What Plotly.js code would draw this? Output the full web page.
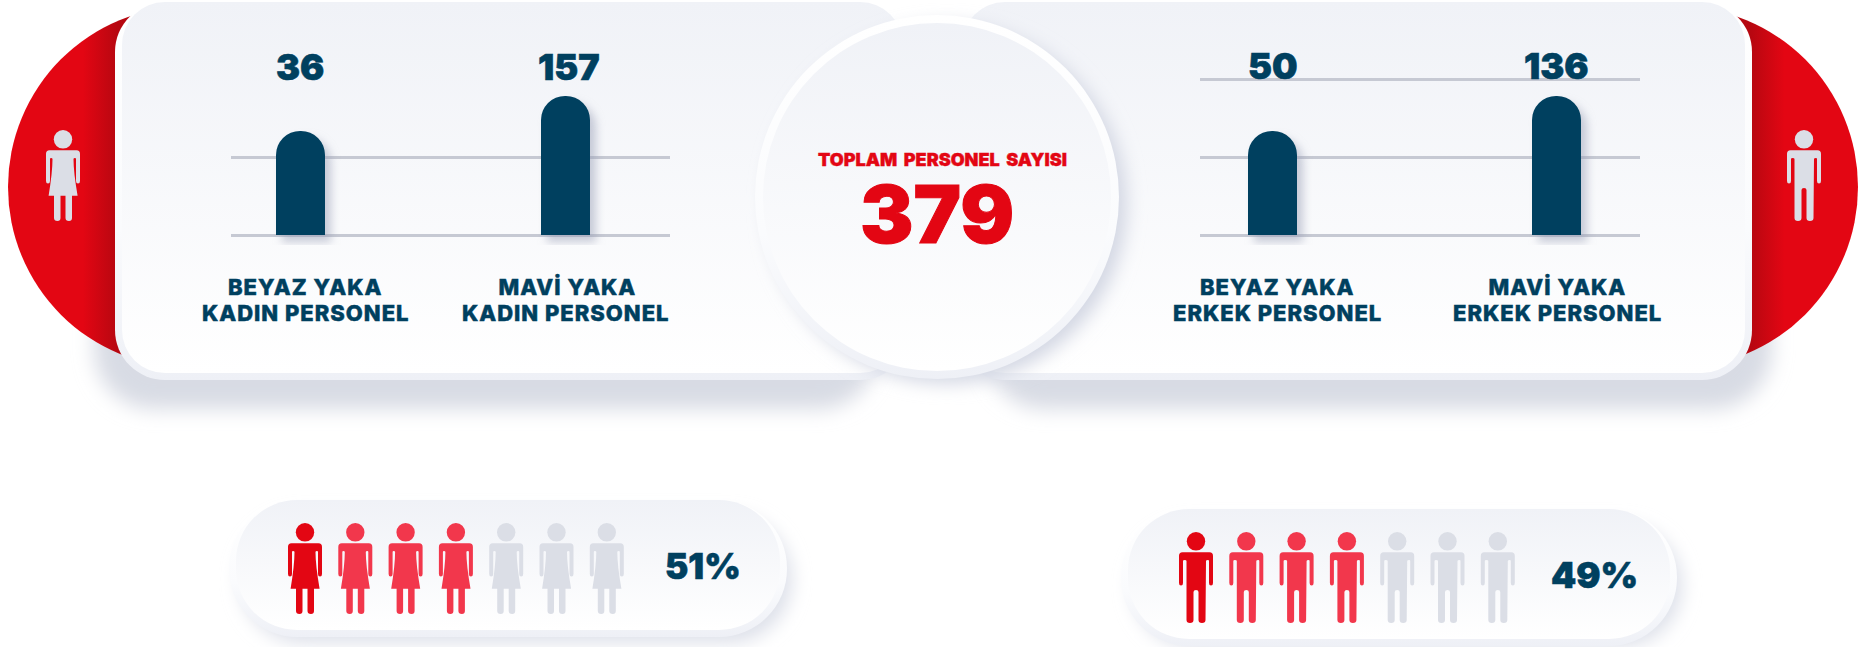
<!DOCTYPE html>
<html><head><meta charset="utf-8">
<script src="https://cdn.plot.ly/plotly-3.0.1.min.js"></script>
<style>
html,body{margin:0;padding:0;background:#fff;overflow:hidden}
#chart{width:1860px;height:647px}
.bars .point path{filter:drop-shadow(6px 7px 4px rgba(150,156,180,.5))}
</style></head><body><div id="chart"></div>
<script>
// ---- data ----
const collarLines = ["BEYAZ YAKA", "MAVİ YAKA"];
const womenLabel = "KADIN PERSONEL";
const menLabel = "ERKEK PERSONEL";
const womenCounts = [36, 157];
const menCounts = [50, 136];
// The infographic's bars are not proportional to the counts: drawn heights as measured
const womenBarHeights = [104, 139];
const menBarHeights = [104, 139];
const womenGrid = [0, 78];
const menGrid = [0, 78, 156];
const totalTitle = "TOPLAM PERSONEL SAYISI";
const totalCount = 379;
const womenShare = "51%";
const menShare = "49%";
const iconTotal = 7;
const iconFilled = 4;

const NAVY = "#00405f", RED = "#e30613", PINK = "#f2374c", GREY = "#dbdee6";
const FONT = "Inter, 'Open Sans', sans-serif";
const W = 1860, H = 647;

// ---- decoration (panels, circles) ----
function panel(x, y, w, h, r, bw) {
  return `<rect x="${x}" y="${y}" width="${w}" height="${h}" rx="${r}" fill="url(#edge)"/>` +
         `<rect x="${x+bw}" y="${y}" width="${w-2*bw}" height="${h-bw}" rx="${r-bw}" fill="url(#face)"/>`;
}
function shadow(x, y, w, h, r, f, c) {
  return `<rect x="${x}" y="${y}" width="${w}" height="${h}" rx="${r}" fill="${c}" filter="url(#${f})"/>`;
}
const bg = `<svg xmlns="http://www.w3.org/2000/svg" width="${W}" height="${H}" viewBox="0 0 ${W} ${H}">
<defs>
<linearGradient id="face" x1="0" y1="0" x2="0" y2="1"><stop offset="0" stop-color="#f0f2f7"/><stop offset="1" stop-color="#ffffff"/></linearGradient>
<linearGradient id="edge" x1="0" y1="0" x2="0" y2="1"><stop offset="0" stop-color="#ffffff"/><stop offset=".6" stop-color="#fafbfd"/><stop offset="1" stop-color="#eef0f6"/></linearGradient>
<linearGradient id="redL" gradientUnits="userSpaceOnUse" x1="8" y1="0" x2="118" y2="0"><stop offset="0" stop-color="${RED}"/><stop offset=".68" stop-color="${RED}"/><stop offset="1" stop-color="#b60710"/></linearGradient>
<linearGradient id="redR" gradientUnits="userSpaceOnUse" x1="1858" y1="0" x2="1750" y2="0"><stop offset="0" stop-color="${RED}"/><stop offset=".68" stop-color="${RED}"/><stop offset="1" stop-color="#b60710"/></linearGradient>
<filter id="b1" x="-20%" y="-20%" width="140%" height="150%"><feGaussianBlur stdDeviation="10"/></filter>
<filter id="b2" x="-30%" y="-30%" width="160%" height="160%"><feGaussianBlur stdDeviation="9"/></filter>
</defs>
${shadow(94,200,784,209,60,"b1","#d8dbe4")}
${shadow(985,200,787,209,60,"b1","#d8dbe4")}
<circle cx="188.5" cy="187" r="180.5" fill="url(#redL)"/>
<circle cx="1677.5" cy="187" r="180.5" fill="url(#redR)"/>
${panel(115,2,795,378,50,7)}
${panel(955,2,797,378,50,7)}
<circle cx="947" cy="204" r="180" fill="#d3d7e3" filter="url(#b2)"/>
<circle cx="937" cy="197" r="182" fill="url(#edge)"/>
<circle cx="937" cy="197" r="174" fill="url(#face)"/>
${shadow(240,515,552,128,64,"b2","#dde0e9")}
${panel(229,500,558,137,68,7)}
${shadow(1132,524,550,123,62,"b2","#dde0e9")}
${panel(1121,509,556,137,68,7)}
</svg>`;

// ---- bars ----
const xCats = [0, 1];
function barTrace(h, xa, ya, width) {
  return {type:"bar", x:xCats, y:h, xaxis:xa, yaxis:ya, width:width,
    marker:{color:NAVY, line:{width:0}}, hoverinfo:"skip", showlegend:false};
}
const pad = 10;
const yDomain = [1-(235+pad)/H, 1-(79-pad)/H];
const yRange = [-pad, 156+pad];
function yAxis(anchor, grid) {
  return {anchor, domain:yDomain, range:yRange, tickvals:grid, showticklabels:false,
    showgrid:true, gridcolor:"#c6c9d3", gridwidth:3, zeroline:false, showline:false, ticks:"", fixedrange:true};
}
function xAxis(anchor, p0, p1, b0, b1) {
  const u = b1-b0;
  return {anchor, domain:[p0/W, p1/W], range:[(p0-b0)/u, 1+(p1-b1)/u], type:"linear",
    showgrid:false, zeroline:false, showline:false, showticklabels:false, ticks:"", fixedrange:true};
}

// ---- text ----
const annotations = [];
const textStyle = [];
function txt(x, y, text, size, color, weight, spacing, stroke, words) {
  annotations.push({xref:"x3", yref:"y3", x, y, text:String(text), showarrow:false, xanchor:"center", yanchor:"middle",
    font:{family:FONT, size, color, weight:weight||800}, borderpad:0});
  textStyle.push({spacing:spacing||0, stroke:stroke||0, color, words:words||0});
}
const NUM = 36, LBL = 22;
txt(300, 67, womenCounts[0], NUM, NAVY, 900, 0, .6);
txt(568.5, 67, womenCounts[1], NUM, NAVY, 900, 0, .6);
txt(1273, 66, menCounts[0], NUM, NAVY, 900, 0, .6);
txt(1556, 66, menCounts[1], NUM, NAVY, 900, 0, .6);
txt(304.5, 287, collarLines[0], LBL, NAVY, 800, 1, .5);
txt(305.5, 313, womenLabel, LBL, NAVY, 800, 1, .5);
txt(567, 287, collarLines[1], LBL, NAVY, 800, 1, .5);
txt(566, 313, womenLabel, LBL, NAVY, 800, 1, .5);
txt(1277, 287, collarLines[0], LBL, NAVY, 800, 1, .5);
txt(1277.5, 313, menLabel, LBL, NAVY, 800, 1, .5);
txt(1557.5, 287, collarLines[1], LBL, NAVY, 800, 1, .5);
txt(1557.5, 313, menLabel, LBL, NAVY, 800, 1, .5);
txt(942, 159, totalTitle, 18, RED, 900, 0, .4, 3);
txt(936.5, 213, totalCount, 80, RED, 900, 0, 1);
txt(703, 566, womenShare, 35, NAVY, 900, 0, .6);
txt(1594, 575, menShare, 36, NAVY, 900, 0, .6);

// ---- pictograms ----
const WOMAN = "M3.5,20.3 L30.5,20.3 Q34,20.3 34,24 L34,51 Q34,53.5 32,53.5 Q30,53.5 30,51 L30,29 Q30,28 29,28 Q27.5,28 27.5,29 Q27.5,42 31.6,65.7 L26,65.7 L26,88 Q26,91 23,91 Q19.5,91 19.5,88 L19.5,65.7 L14.5,65.7 L14.5,88 Q14.5,91 11.5,91 Q8,91 8,88 L8,65.7 L2.6,65.7 Q6.5,42 6.5,29 Q6.5,28 5,28 Q4,28 4,29 L4,51 Q4,53.5 2,53.5 Q0,53.5 0,51 L0,24 Q0,20.3 3.5,20.3 Z";
const MAN = "M3.5,20.3 L30.5,20.3 Q34,20.3 34,24 L34,51 Q34,53.5 32,53.5 Q30,53.5 30,51 L30,29 Q30,28 29,28 Q27,28 27,29 L26.5,88 Q26.5,91 23,91 Q19.5,91 19.5,88 L19.5,60 Q19.5,58 17,58 Q14.5,58 14.5,60 L14.5,88 Q14.5,91 11,91 Q7.5,91 7.5,88 L7.5,29 Q7.5,28 5.5,28 Q4,28 4,29 L4,51 Q4,53.5 2,53.5 Q0,53.5 0,51 L0,24 Q0,20.3 3.5,20.3 Z";
const shapes = [];
function icon(path, x, y, color) {
  const moved = path.replace(/(-?[\d.]+),(-?[\d.]+)/g, (m, a, b) => (+a + x).toFixed(2) + "," + (+b + y).toFixed(2));
  shapes.push({type:"path", xref:"x3", yref:"y3", path:moved, fillcolor:color, line:{width:0}, layer:"above"});
  shapes.push({type:"circle", xref:"x3", yref:"y3", x0:x+7.8, x1:x+26.2, y0:y, y1:y+18.6, fillcolor:color, line:{width:0}, layer:"above"});
}
function iconRow(path, x, y) {
  for (let i = 0; i < iconTotal; i++) {
    icon(path, x + i*50.3, y, i === 0 ? RED : (i < iconFilled ? PINK : GREY));
  }
}
icon(WOMAN, 46, 130, GREY);
icon(MAN, 1787, 130, GREY);
iconRow(WOMAN, 288, 523);
iconRow(MAN, 1179, 532);

const traces = [
  {type:"scatter", x:[0], y:[0], xaxis:"x3", yaxis:"y3", mode:"none", hoverinfo:"skip", showlegend:false},
  barTrace(womenBarHeights, "x", "y", 49/265),
  barTrace(menBarHeights, "x2", "y2", 49/284)
];
const layout = {
  width:W, height:H, margin:{l:0,r:0,t:0,b:0}, paper_bgcolor:"#ffffff", plot_bgcolor:"rgba(0,0,0,0)",
  showlegend:false, barcornerradius:24.5, hovermode:false,
  xaxis:xAxis("y", 231, 670, 300.5, 565.5),
  yaxis:yAxis("x", womenGrid),
  xaxis2:xAxis("y2", 1200, 1640, 1272.5, 1556.5),
  yaxis2:yAxis("x2", menGrid),
  xaxis3:{domain:[0,1], range:[0,W], visible:false, fixedrange:true, anchor:"y3"},
  yaxis3:{domain:[0,1], range:[H,0], visible:false, fixedrange:true, anchor:"x3"},
  images:[{source:"data:image/svg+xml;charset=utf-8,"+encodeURIComponent(bg), xref:"paper", yref:"paper",
    x:0, y:1, sizex:1, sizey:1, sizing:"stretch", xanchor:"left", yanchor:"top", layer:"below"}],
  shapes, annotations
};
Plotly.newPlot("chart", traces, layout, {displayModeBar:false, staticPlot:true}).then(() => {
  document.querySelectorAll("#chart .annotation").forEach(g => {
    const s = textStyle[+g.getAttribute("data-index")];
    const t = g.querySelector("text");
    if (!s || !t) return;
    t.style.letterSpacing = s.spacing + "px";
    t.style.wordSpacing = s.words + "px";
    t.style.stroke = s.color;
    t.style.strokeWidth = s.stroke + "px";
  });
});
</script></body></html>
